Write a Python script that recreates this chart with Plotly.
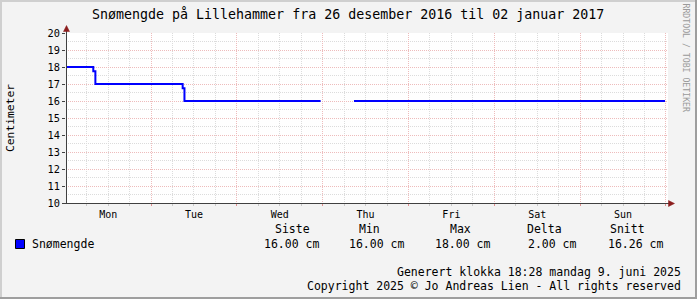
import plotly.graph_objects as go

# ---- data ----
times = ["2016-12-26 00:00", "2016-12-26 07:50", "2016-12-26 08:25",
         "2016-12-27 08:50", "2016-12-27 09:20", "2016-12-28 23:25",
         "2016-12-28 23:30", "2016-12-29 08:45", "2017-01-01 23:45"]
snow_cm = [18, 17.75, 17, 16.75, 16, 16, None, 16, 16]

stat_labels = ["Siste", "Min", "Max", "Delta", "Snitt"]
stat_values = ["16.00 cm", "16.00 cm", "18.00 cm", "2.00 cm", "16.26 cm"]

title = "Snømengde på Lillehammer fra 26 desember 2016 til 02 januar 2017"
series_name = "Snømengde"
y_title = "Centimeter"
footer1 = "Generert klokka 18:28 mandag 9. juni 2025"
footer2 = "Copyright 2025 © Jo Andreas Lien - All rights reserved"
watermark = "RRDTOOL / TOBI OETIKER"

W, H = 697, 299
L, R, T, B = 66, 668, 33, 203
FONT = "DejaVu Sans Mono"


def X(px):
    return (px - L) / (R - L)


def Y(py):
    return (B - py) / (B - T)


fig = go.Figure()
fig.add_trace(go.Scatter(x=times, y=snow_cm, mode="lines", line_shape="hv",
                         line=dict(color="#0000ff", width=2), connectgaps=False,
                         name=series_name, showlegend=False, hoverinfo="skip"))

major_grid = "#eebcbc"
minor_grid = "#dcdcdc"
dash = "1px,1px"

fig.update_xaxes(
    type="date", range=["2016-12-26 00:12", "2017-01-02 00:35"],
    tick0="2016-12-26 00:00", dtick=86400000, tickformat="%a",
    ticklabelmode="period", showgrid=True, gridcolor=major_grid,
    griddash=dash, gridwidth=1, ticks="outside", ticklen=2,
    tickcolor="#e09090", showline=False, zeroline=False,
    tickfont=dict(family=FONT, size=10, color="#000000"),
    minor=dict(dtick=6 * 3600 * 1000, showgrid=True, gridcolor=minor_grid,
               griddash=dash, gridwidth=1, ticks="outside", ticklen=2,
               tickcolor="#c8c8c8"),
)
fig.update_yaxes(
    range=[10, 20], dtick=1, tick0=10, showgrid=True, gridcolor=major_grid,
    griddash=dash, gridwidth=1, ticks="outside", ticklen=3,
    tickcolor="#404040", showline=False, zeroline=False,
    tickfont=dict(family=FONT, size=10.3, color="#000000"),
    minor=dict(dtick=0.5, showgrid=True, gridcolor=minor_grid,
               griddash=dash, gridwidth=1),
)

shapes = []
# frame shading
shapes.append(dict(type="rect", xref="paper", yref="paper", x0=X(0), x1=X(W), y0=Y(0), y1=Y(2),
                   fillcolor="#cfcfcf", line_width=0, layer="above"))
shapes.append(dict(type="rect", xref="paper", yref="paper", x0=X(0), x1=X(2), y0=Y(0), y1=Y(H),
                   fillcolor="#cfcfcf", line_width=0, layer="above"))
shapes.append(dict(type="rect", xref="paper", yref="paper", x0=X(W - 2), x1=X(W), y0=Y(0), y1=Y(H),
                   fillcolor="#9e9e9e", line_width=0, layer="above"))
shapes.append(dict(type="rect", xref="paper", yref="paper", x0=X(0), x1=X(W), y0=Y(H - 2), y1=Y(H),
                   fillcolor="#9e9e9e", line_width=0, layer="above"))
# axis lines
shapes.append(dict(type="line", xref="paper", yref="paper", x0=X(66.5), x1=X(66.5), y0=Y(203.5), y1=Y(28),
                   line=dict(color="#404040", width=1), layer="above"))
shapes.append(dict(type="line", xref="paper", yref="paper", x0=X(63), x1=X(670), y0=Y(203.5), y1=Y(203.5),
                   line=dict(color="#404040", width=1), layer="above"))
# arrows
shapes.append(dict(type="path", xref="paper", yref="paper",
                   path=f"M {X(66.5)} {Y(25.5)} L {X(63.5)} {Y(31.5)} L {X(69.5)} {Y(31.5)} Z",
                   fillcolor="#8b1c1c", line=dict(color="#8b1c1c", width=0.5), layer="above"))
shapes.append(dict(type="path", xref="paper", yref="paper",
                   path=f"M {X(674.5)} {Y(203.5)} L {X(668.5)} {Y(200.5)} L {X(668.5)} {Y(206.5)} Z",
                   fillcolor="#8b1c1c", line=dict(color="#8b1c1c", width=0.5), layer="above"))
# legend swatch
shapes.append(dict(type="rect", xref="paper", yref="paper", x0=X(15.5), x1=X(24.5), y0=Y(239.5), y1=Y(248.5),
                   fillcolor="#0000ff", line=dict(color="#000000", width=1), layer="above"))

ann = []


def text(s, px, py, size=11.5, xanchor="center", color="#000000", angle=0):
    ann.append(dict(text=s, x=X(px), y=Y(py), xref="paper", yref="paper",
                    xanchor=xanchor, yanchor="middle", showarrow=False,
                    textangle=angle, borderpad=0,
                    font=dict(family=FONT, size=size, color=color)))


text(title, 348, 14, size=13.3)
text(y_title, 10.5, 118.5, size=11.3, angle=-90)
text(watermark, 686, 57.5, size=8.2, color="#9a9a9a", angle=90)
text(series_name, 31, 243.5, xanchor="left")
head_x = [292, 369.5, 460, 544, 627.5]
val_x = [291, 376.5, 462.5, 552, 635.5]
for lab, val, hx, vx in zip(stat_labels, stat_values, head_x, val_x):
    text(lab, hx, 229.5)
    text(val, vx, 243.5)
text(footer1, 681.5, 271.5, xanchor="right")
text(footer2, 681.5, 285.5, xanchor="right")

fig.update_layout(
    width=W, height=H,
    margin=dict(l=L, r=W - R, t=T, b=H - B, pad=0),
    paper_bgcolor="#f3f3f3", plot_bgcolor="#ffffff",
    shapes=shapes, annotations=ann, showlegend=False,
    font=dict(family=FONT),
)

fig.write_html("out.html")
